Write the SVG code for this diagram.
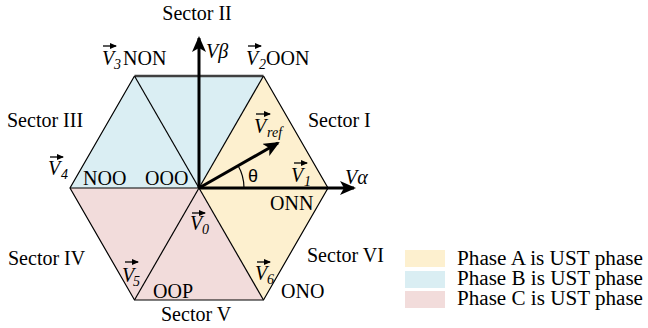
<svg xmlns="http://www.w3.org/2000/svg" width="648" height="328" viewBox="0 0 648 328">
<style>
text{font-family:"Liberation Serif","Times New Roman",serif;font-size:20px;fill:#000}
.v{font-style:italic}
.s{font-style:italic;font-size:14px}
.thin{stroke:#000;stroke-width:1.2;fill:none}
.ax{stroke:#000;stroke-width:3;fill:none}
.va{stroke:#000;stroke-width:1.3;fill:none}
</style>
<defs>
<marker id="big" markerUnits="userSpaceOnUse" markerWidth="16" markerHeight="14" refX="14" refY="7" orient="auto">
<path d="M0,0 L16,7 L0,14 L4,7 Z" fill="#000"/>
</marker>
<marker id="sm" markerUnits="userSpaceOnUse" markerWidth="7" markerHeight="6" refX="6" refY="3" orient="auto">
<path d="M0,0 L7,3 L0,6 Z" fill="#000"/>
</marker>
</defs>
<g id="regions">
<polygon points="199,188 263.5,300 328,188 263.5,76" fill="#FDF0CF"/>
<polygon points="199,188 263.5,76 134.5,76 70,188" fill="#DAEEF3"/>
<polygon points="199,188 70,188 134.5,300 263.5,300" fill="#F2DCDB"/>
</g>
<g id="hexagon">
<polyline class="thin" points="263.5,76 328,188 263.5,300 134.5,300 70,188 134.5,76"/>
<line x1="134.5" y1="76" x2="263.5" y2="76" stroke="#404040" stroke-width="2.5"/>
<line class="thin" x1="199" y1="188" x2="263.5" y2="76"/>
<line class="thin" x1="199" y1="188" x2="134.5" y2="76"/>
<line class="thin" x1="199" y1="188" x2="70" y2="188"/>
<line class="thin" x1="199" y1="188" x2="134.5" y2="300"/>
<line class="thin" x1="199" y1="188" x2="263.5" y2="300"/>
</g>
<g id="connectors">
<line class="ax" x1="199" y1="188" x2="199" y2="38" marker-end="url(#big)"/>
<line class="ax" x1="199" y1="188" x2="354" y2="188" marker-end="url(#big)"/>
<line class="ax" x1="199" y1="188" x2="278" y2="143" marker-end="url(#big)"/>
<path class="thin" d="M244,188 A45,45 0 0 0 238,165.5"/>
</g>
<g id="labels">
<text x="197" y="20" text-anchor="middle">Sector II</text>
<text x="7" y="127">Sector III</text>
<text x="308" y="127">Sector I</text>
<text x="8" y="265">Sector IV</text>
<text x="307" y="262">Sector VI</text>
<text x="161" y="321">Sector V</text>
<text x="206" y="58" class="v">Vβ</text>
<text x="345" y="184" class="v">Vα</text>
<text x="248" y="182" style="font-family:'Liberation Sans',Arial,sans-serif;font-size:18px">θ</text>
</g>
<g id="v3"><line class="va" x1="103" y1="46" x2="116" y2="46" marker-end="url(#sm)"/><text x="102" y="65" class="v">V</text><text x="114" y="69" class="s">3</text><text x="123" y="65">NON</text></g>
<g id="v2"><line class="va" x1="248" y1="46" x2="261" y2="46" marker-end="url(#sm)"/><text x="246" y="65" class="v">V</text><text x="259" y="69" class="s">2</text><text x="266" y="65">OON</text></g>
<g id="v4"><line class="va" x1="50" y1="157" x2="63" y2="157" marker-end="url(#sm)"/><text x="48" y="175" class="v">V</text><text x="61" y="179" class="s">4</text></g>
<g id="v0"><text x="83" y="185">NOO</text><text x="145" y="185">OOO</text></g>
<g id="vref"><line class="va" x1="256" y1="114" x2="270" y2="114" marker-end="url(#sm)"/><text x="254" y="133" class="v">V</text><text x="267" y="137" class="s">ref</text></g>
<g id="v1"><line class="va" x1="294" y1="163" x2="307" y2="163" marker-end="url(#sm)"/><text x="291" y="182" class="v">V</text><text x="304" y="186" class="s">1</text><text x="270" y="210">ONN</text></g>
<g id="v0lab"><line class="va" x1="192" y1="213" x2="205" y2="213" marker-end="url(#sm)"/><text x="190" y="230" class="v">V</text><text x="202" y="234" class="s">0</text></g>
<g id="v5"><line class="va" x1="125" y1="262" x2="138" y2="262" marker-end="url(#sm)"/><text x="122" y="282" class="v">V</text><text x="133" y="286" class="s">5</text><text x="153" y="298">OOP</text></g>
<g id="v6"><line class="va" x1="257" y1="262" x2="270" y2="262" marker-end="url(#sm)"/><text x="255" y="280" class="v">V</text><text x="267" y="284" class="s">6</text><text x="281" y="298">ONO</text></g>
<g id="legend">
<rect x="405" y="250" width="40" height="17" fill="#FDF0CF"/>
<rect x="405" y="271" width="40" height="17" fill="#DAEEF3"/>
<rect x="405" y="291" width="40" height="17" fill="#F2DCDB"/>
<text x="457" y="265" textLength="186" lengthAdjust="spacingAndGlyphs">Phase A is UST phase</text>
<text x="457" y="285" textLength="186" lengthAdjust="spacingAndGlyphs">Phase B is UST phase</text>
<text x="457" y="305" textLength="186" lengthAdjust="spacingAndGlyphs">Phase C is UST phase</text>
</g>
</svg>
